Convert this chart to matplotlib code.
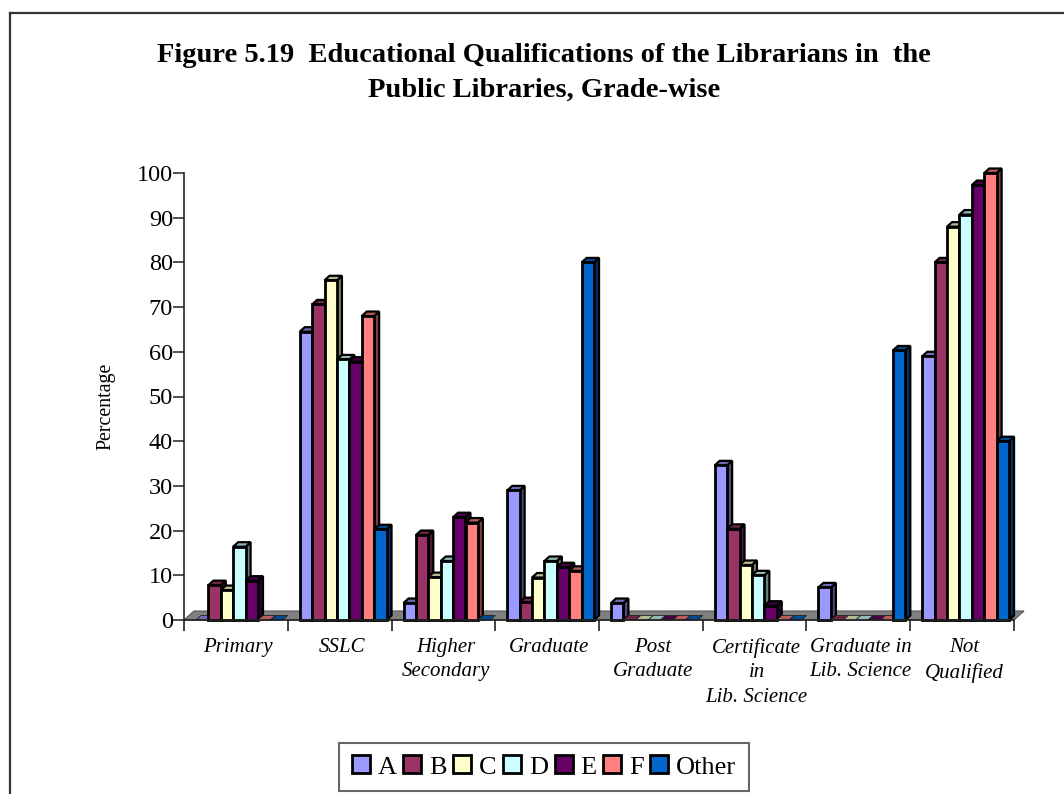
import matplotlib
matplotlib.use('Agg')
import matplotlib.pyplot as plt
from matplotlib.lines import Line2D
from matplotlib.patches import Polygon
import numpy as np

plt.rcParams['font.family'] = ['Liberation Serif', 'DejaVu Serif']

categories = ['Primary', 'SSLC', 'Higher\nSecondary', 'Graduate', 'Post\nGraduate',
              'Certificate\nin\nLib. Science', 'Graduate in\nLib. Science', 'Not\nQualified']
grades = ['A', 'B', 'C', 'D', 'E', 'F', 'Other']
colors = ['#9999FF', '#993366', '#FFFFCC', '#CCFFFF', '#660066', '#FF8080', '#0066CC']

grade_a = [0, 64.5, 3.8, 29, 3.8, 34.6, 7.3, 59]
grade_b = [7.8, 70.6, 19, 4, 0, 20.4, 0, 80]
grade_c = [6.7, 76, 9.6, 9.5, 0, 12.3, 0, 88]
grade_d = [16.4, 58.3, 13.2, 13.2, 0, 10, 0, 90.7]
grade_e = [8.8, 57.8, 23, 11.8, 0, 3.2, 0, 97.3]
grade_f = [0, 68, 21.8, 11, 0, 0, 0, 100]
other = [0, 20.3, 0, 80, 0, 0, 60.3, 40]
series = [grade_a, grade_b, grade_c, grade_d, grade_e, grade_f, other]

W, H = 1064, 794


def shade(hex_color, k):
    rgb = np.array(matplotlib.colors.to_rgb(hex_color))
    return tuple(rgb * k)


fig = plt.figure(figsize=(W / 100, H / 100), dpi=100)
ax = fig.add_axes([184 / W, 1 - 620 / H, (1014 - 184) / W, (620 - 173) / H])
ax.set_xlim(0, 8)
ax.set_ylim(0, 100)

# px sizes converted to data units
px_x = 8 / (1014 - 184)
px_y = 100 / (620 - 173)
bar_w = 12.4 * px_x
start = 12 * px_x
dx = 5 * px_x
dy = 4.5 * px_y

# grey floor behind the bars
floor = Polygon([(0, 0), (8, 0), (8 + 10 * px_x, 9 * px_y), (10 * px_x, 9 * px_y)],
                closed=True, facecolor='#808080', edgecolor='#555555', lw=0.8, clip_on=False, zorder=1)
ax.add_patch(floor)

z = 2
for c in range(len(categories)):
    for s, values in enumerate(series):
        v = values[c]
        x0 = c + start + s * bar_w
        x1 = x0 + bar_w
        col = colors[s]
        if v > 0:
            side = Polygon([(x1, 0), (x1 + dx, dy), (x1 + dx, v + dy), (x1, v)], closed=True,
                           facecolor=shade(col, 0.5), edgecolor='black', lw=1.6, clip_on=False, zorder=z)
            top = Polygon([(x0, v), (x0 + dx, v + dy), (x1 + dx, v + dy), (x1, v)], closed=True,
                          facecolor=shade(col, 0.72), edgecolor='black', lw=1.6, clip_on=False, zorder=z)
            ax.add_patch(side)
            ax.add_patch(top)
            ax.bar(x0, v, width=bar_w, align='edge', color=col, edgecolor='black', lw=2,
                   clip_on=False, zorder=z + 0.5)
        else:
            # empty bars only show a flat top lying on the floor
            top = Polygon([(x0, 0), (x0 + dx, dy), (x1 + dx, dy), (x1, 0)], closed=True,
                          facecolor=shade(col, 0.72), edgecolor='#222222', lw=0.6, clip_on=False, zorder=z)
            ax.add_patch(top)
        z += 1

# axes lines and ticks
for name in ['top', 'right']:
    ax.spines[name].set_visible(False)
for name in ['left', 'bottom']:
    ax.spines[name].set_linewidth(1.2)
    ax.spines[name].set_color('#222222')
    ax.spines[name].set_zorder(z + 1)

ax.set_yticks(np.arange(0, 101, 10))
ax.tick_params(axis='y', length=8, width=1.2, color='#333333', labelsize=17.5, pad=0)
ax.set_xticks(np.arange(0, 9))
ax.set_xticklabels([])
ax.tick_params(axis='x', which='major', length=8, width=1.2, color='#222222')
ax.set_xticks(np.arange(8) + 0.52, minor=True)
ax.set_xticklabels(categories, minor=True, fontsize=15, fontstyle='italic', linespacing=1.38)
ax.tick_params(axis='x', which='minor', length=0, pad=13)

fig.text(106 / W, 1 - 406 / H, 'Percentage', rotation=90, fontsize=14.3, ha='center', va='center')

fig.text(544 / W, 1 - 55 / H, 'Figure 5.19  Educational Qualifications of the Librarians in  the',
         fontsize=20.5, fontweight='bold', ha='center', va='center')
fig.text(544 / W, 1 - 90 / H, 'Public Libraries, Grade-wise',
         fontsize=20.5, fontweight='bold', ha='center', va='center')

# legend from plain swatches
swatches = [plt.Rectangle((0, 0), 1, 1, facecolor=col, edgecolor='black', lw=2) for col in colors]
leg = fig.legend(swatches, grades, ncol=7, loc='center', fontsize=19,
                 bbox_to_anchor=(544 / W, 1 - 767 / H), frameon=True, fancybox=False,
                 edgecolor='#666666', framealpha=1, handlelength=0.68, handleheight=0.68,
                 handletextpad=0.3, columnspacing=0.25, borderpad=0.47, borderaxespad=0)
leg.get_frame().set_linewidth(1.5)

# outer chart border, running off the right and bottom edges
fig.add_artist(Line2D([10 / W, 10 / W], [0, 1 - 13 / H], color='#333333', lw=1.6))
fig.add_artist(Line2D([10 / W, 1], [1 - 13 / H, 1 - 13 / H], color='#333333', lw=1.6))

fig.savefig('out.png', dpi=100)
